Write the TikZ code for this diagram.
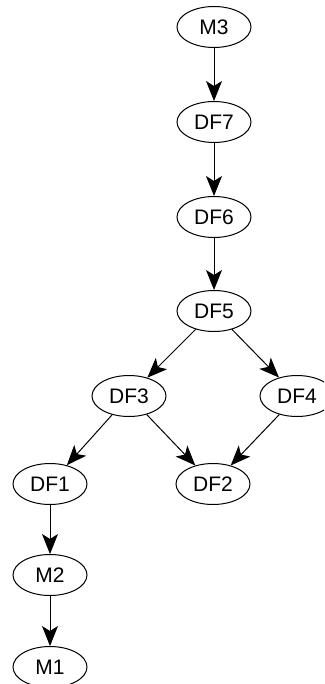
\documentclass[tikz,border=0pt]{standalone}
\usepackage{fontspec}
\setmainfont{Liberation Sans}
\usetikzlibrary{shapes.geometric,arrows.meta}

\begin{document}
\begin{tikzpicture}[x=1pt,y=1pt,yscale=-1,
	blob/.style={draw,ellipse,line width=1pt,minimum width=74pt,minimum height=41pt,inner sep=0pt,font=\fontsize{21}{25}\selectfont},
	link/.style={line width=1pt,-{Stealth[length=20pt,width=16pt,inset=5pt]}}]
	\useasboundingbox (0,0) rectangle (324,684);
	\clip (0,0) rectangle (324,684);
	% nodes, one rank per row
	\node [blob] (m3)  at (214,27)  {M3};
	\node [blob] (df7) at (214,122) {DF7};
	\node [blob] (df6) at (214,217) {DF6};
	\node [blob] (df5) at (214,311) {DF5};
	\node [blob] (df3) at (129,396) {DF3};
	\node [blob] (df4) at (297,396) {DF4};
	\node [blob] (df1) at (50,484)  {DF1};
	\node [blob] (df2) at (213,484) {DF2};
	\node [blob] (m2)  at (50,575)  {M2};
	\node [blob] (m1)  at (50,667)  {M1};
	% edges
	\draw [link] (m3) -- (df7);
	\draw [link] (df7) -- (df6);
	\draw [link] (df6) -- (df5);
	\draw [link] (df5) -- (df3);
	\draw [link] (df5) -- (df4);
	\draw [link] (df3) -- (df1);
	\draw [link] (df3) -- (df2);
	\draw [link] (df4) -- (df2);
	\draw [link] (df1) -- (m2);
	\draw [link] (m2) -- (m1);
\end{tikzpicture}
\end{document}
